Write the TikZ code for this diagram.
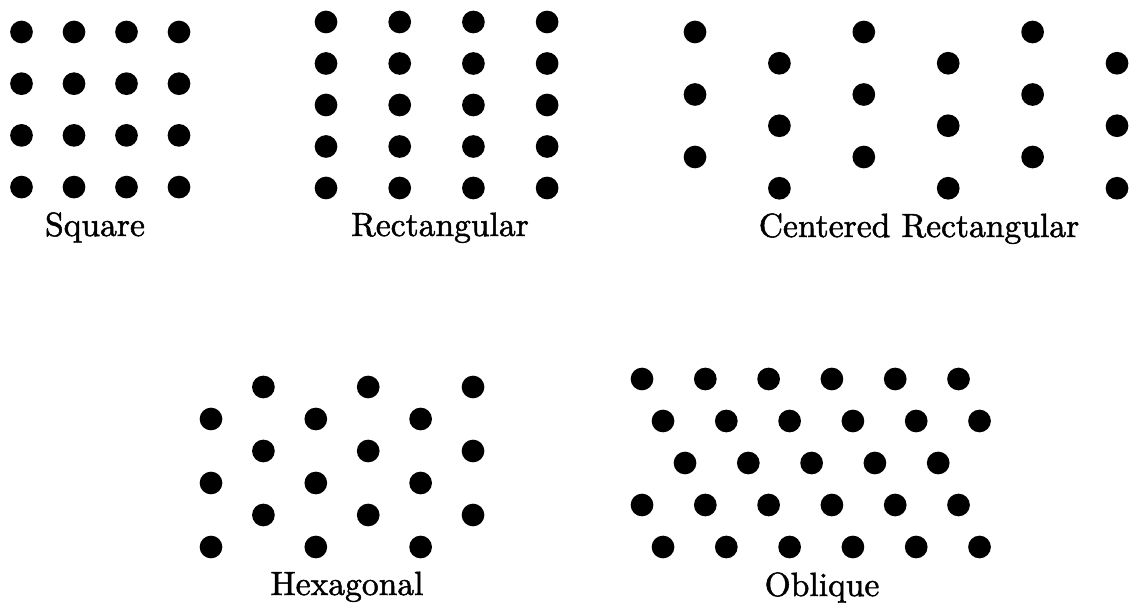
\documentclass[tikz,border=0pt]{standalone}
\usepackage{fontspec}
\usepackage{tikz}
\newfontfamily\labfont[FakeBold=1.5]{lmroman10-regular.otf}
\tikzset{
  site/.style={circle,fill=black,draw=none,minimum size=4.54mm,inner sep=0pt},
  lbl/.style={font=\labfont\fontsize{19.1}{23}\selectfont,anchor=base,inner sep=0pt}
}
\begin{document}
\begin{tikzpicture}[x=0.2mm,y=-0.2mm]
  \useasboundingbox (0,0) rectangle (1133,606);
  % square
  \foreach \i in {0,...,3}
    \foreach \j in {0,...,3}
      \node[site] (sq\i\j) at ({21.5+52.5*\i},{32+51.7*\j}) {};
  \node[lbl] (lsq) at (95,236) {Square};
  % rectangular
  \foreach \i in {0,...,3}
    \foreach \j in {0,...,4}
      \node[site] (re\i\j) at ({326+73.7*\i},{22+41.5*\j}) {};
  \node[lbl] (lre) at (440,236) {Rectangular};
  % centered rectangular
  \foreach \i in {0,...,5}
    \foreach \j in {0,...,2}
      \node[site] (cr\i\j) at ({695+84.4*\i},{32+31.25*mod(\i,2)+62.5*\j}) {};
  \node[lbl] (lcr) at (919,237) {Centered Rectangular};
  % hexagonal
  \foreach \i in {0,...,5}
    \foreach \j in {0,...,2}
      \node[site] (hx\i\j) at ({211+52.4*\i},{419-32*mod(\i,2)+64*\j}) {};
  \node[lbl] (lhx) at (347,595) {Hexagonal};
  % oblique
  \foreach \r/\x/\n in {0/642/5,1/663/5,2/685/4,3/642/5,4/663/5}
    \foreach \i in {0,...,\n}
      \node[site] (ob\r\i) at ({\x+63.3*\i},{379+42*\r}) {};
  \node[lbl] (lob) at (822,596) {Oblique};
\end{tikzpicture}
\end{document}
